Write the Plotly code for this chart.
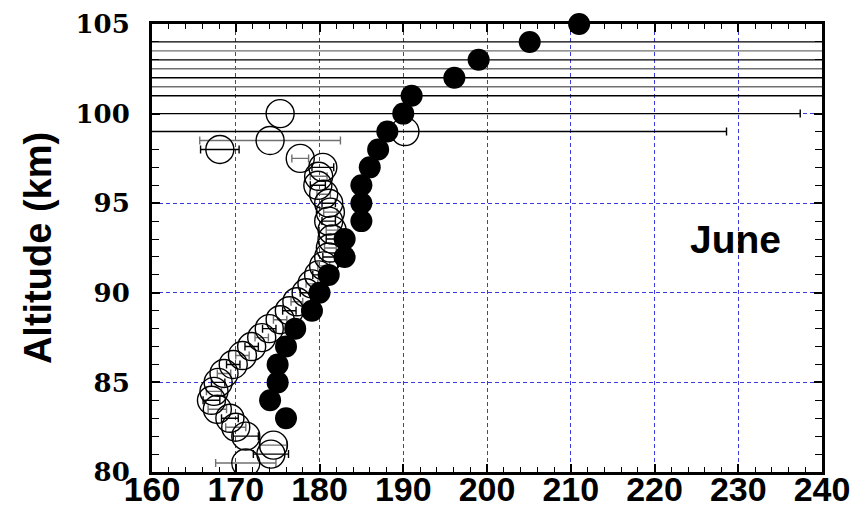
import plotly.graph_objects as go

# Filled circles (one profile)
alt_filled = [105, 104, 103, 102, 101, 100, 99, 98, 97, 96, 95, 94, 93, 92, 91, 90, 89, 88, 87, 86, 85, 84, 83]
temp_filled = [211.0, 205.1, 199.0, 196.1, 191.0, 190.0, 188.1, 187.0, 186.0, 185.0, 185.0, 185.0, 183.0, 183.0,
               181.1, 180.0, 179.1, 177.1, 176.0, 175.0, 175.0, 174.1, 176.0]

# Open circles, integer altitudes
alt_open_a = [81, 82, 83, 84, 85, 86, 87, 88, 89, 90, 91, 92, 93, 94, 95, 96, 97, 98, 99, 100, 101, 102, 103, 104]
temp_open_a = [174.2, 171.2, 169.3, 167.1, 167.9, 169.7, 171.9, 174.0, 176.4, 178.4, 179.9, 181.1, 181.5, 181.1,
               181.1, 179.8, 180.4, 168.1, 190.2, 175.3, 260.0, 260.0, 260.0, 260.0]
err_open_a = [2.1, 1.5, 1.0, 1.0, 0.8, 0.8, 0.8, 0.8, 0.8, 0.7, 0.7, 0.7, 0.7, 0.8,
              0.8, 0.9, 1.3, 2.3, 38.4, 62.1, 150.0, 150.0, 150.0, 150.0]

# Open circles, half-km altitudes
alt_open_b = [80.5, 81.5, 82.5, 83.5, 84.5, 85.5, 86.5, 87.5, 88.5, 89.5, 90.5, 91.5, 92.5, 93.5, 94.5, 95.5,
              96.5, 97.5, 98.5, 101.5, 102.5, 103.5]
temp_open_b = [171.2, 174.5, 170.0, 167.8, 167.4, 168.6, 170.8, 173.1, 175.3, 177.3, 179.1, 180.5, 181.3, 181.5,
               181.3, 180.5, 179.9, 177.7, 174.1, 260.0, 260.0, 260.0]
err_open_b = [3.6, 1.6, 1.2, 1.1, 0.9, 0.8, 0.8, 0.8, 0.8, 0.7, 0.7, 0.7, 0.7, 0.7,
              0.8, 0.8, 1.0, 1.0, 8.4, 150.0, 150.0, 150.0]

x_ticks = [160, 170, 180, 190, 200, 210, 220, 230, 240]
y_ticks = [80, 85, 90, 95, 100, 105]
label_text = "June"
y_title = "Altitude (km)"

fig = go.Figure()

fig.add_trace(go.Scatter(
    x=temp_open_b, y=alt_open_b, mode="markers",
    marker=dict(symbol="circle-open", size=28, color="black", line=dict(width=1.4, color="black")),
    error_x=dict(type="data", array=err_open_b, visible=True, color="#707070", thickness=1.4, width=4),
    showlegend=False, hoverinfo="skip"))

fig.add_trace(go.Scatter(
    x=temp_open_a, y=alt_open_a, mode="markers",
    marker=dict(symbol="circle-open", size=28, color="black", line=dict(width=1.4, color="black")),
    error_x=dict(type="data", array=err_open_a, visible=True, color="black", thickness=1.4, width=4),
    showlegend=False, hoverinfo="skip"))

fig.add_trace(go.Scatter(
    x=temp_filled, y=alt_filled, mode="markers",
    marker=dict(symbol="circle", size=22, color="black"),
    showlegend=False, hoverinfo="skip", cliponaxis=False))

axis_common = dict(
    showline=True, linewidth=3, linecolor="black", mirror="ticks",
    ticks="inside", ticklen=8, tickwidth=1.5, tickcolor="black",
    showgrid=True, gridcolor="#3a3ae0", gridwidth=1.3, griddash="4px,3px",
    zeroline=False, automargin=False,
)

fig.update_xaxes(
    range=[160, 240], tickvals=x_ticks, ticktext=[str(v) for v in x_ticks],
    tickfont=dict(family="Liberation Sans", size=34, color="black", weight="bold"),
    ticklabelstandoff=-15,
    minor=dict(dtick=2, ticks="inside", ticklen=5, tickwidth=1.2, tickcolor="black", showgrid=False),
    **axis_common)

fig.update_yaxes(
    range=[80, 105], tickvals=y_ticks, ticktext=[str(v) for v in y_ticks],
    tickfont=dict(family="DejaVu Serif", size=26, color="black", weight="bold"),
    ticklabelstandoff=14,
    minor=dict(dtick=1, ticks="inside", ticklen=7, tickwidth=1.2, tickcolor="black", showgrid=False),
    **axis_common)

fig.add_annotation(
    x=229.7, y=93.0, xref="x", yref="y", text=label_text, showarrow=False,
    font=dict(family="Liberation Sans", size=39, color="black", weight="bold"),
    xanchor="center", yanchor="middle")

fig.add_annotation(
    x=-0.17, y=0.5, xref="paper", yref="paper", text=y_title, showarrow=False, textangle=-90,
    font=dict(family="Liberation Sans", size=38, color="black", weight="bold"),
    xanchor="center", yanchor="middle")

fig.update_layout(
    width=866, height=510, autosize=False,
    margin=dict(l=152, r=44, t=24, b=38),
    plot_bgcolor="white", paper_bgcolor="white",
)

fig.write_html("out.html")
